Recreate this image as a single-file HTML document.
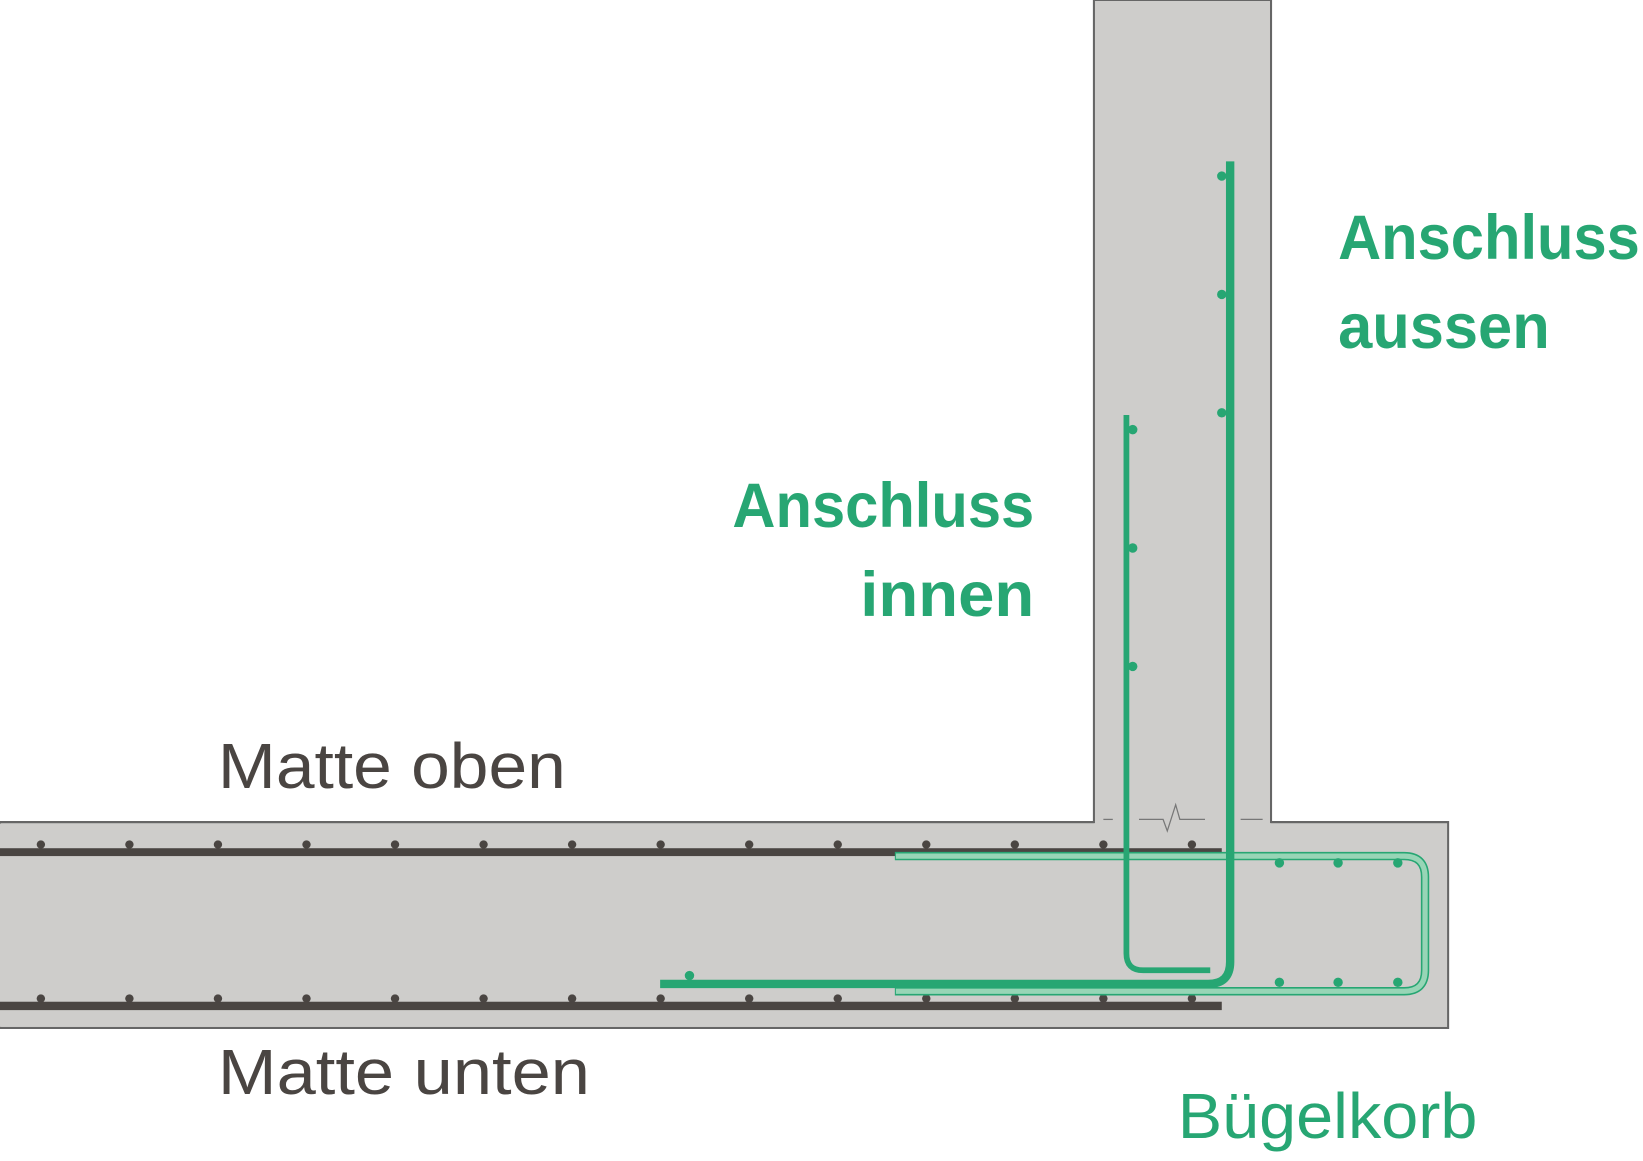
<!DOCTYPE html>
<html><head><meta charset="utf-8"><style>
html,body{margin:0;padding:0;background:#fff;}
svg{display:block;}
</style></head><body>
<svg width="1643" height="1161" viewBox="0 0 1568 1108" preserveAspectRatio="none" xmlns="http://www.w3.org/2000/svg">
<path d="M1044,0 L1213,0 L1213,784.5 L1382,784.5 L1382,981 L0,981 L0,784.5 L1044,784.5 Z" fill="#cecdcb" stroke="#666" stroke-width="2"/>
<rect x="0" y="786" width="1381" height="194" fill="#cecdcb"/>
<rect x="1045" y="1" width="167" height="790" fill="#cecdcb"/>
<line x1="0" y1="784.5" x2="1044" y2="784.5" stroke="#666" stroke-width="2"/>
<line x1="1213" y1="784.5" x2="1382" y2="784.5" stroke="#666" stroke-width="2"/>
<g stroke="#777" stroke-width="1.2" fill="none">
<line x1="1053" y1="782" x2="1062" y2="782"/>
<polyline points="1087,782 1110,782 1114,793 1122,768 1126,782 1150,782"/>
<line x1="1184" y1="782" x2="1205" y2="782"/>
</g>
<rect x="0" y="809.5" width="1166" height="7.5" fill="#4a4542"/>
<rect x="0" y="956" width="1166" height="8" fill="#4a4542"/>
<g fill="#4a4542">
<circle cx="39" cy="806" r="4"/><circle cx="123.5" cy="806" r="4"/><circle cx="208" cy="806" r="4"/><circle cx="292.5" cy="806" r="4"/><circle cx="377" cy="806" r="4"/><circle cx="461.5" cy="806" r="4"/><circle cx="546" cy="806" r="4"/><circle cx="630.5" cy="806" r="4"/><circle cx="715" cy="806" r="4"/><circle cx="799.5" cy="806" r="4"/><circle cx="884" cy="806" r="4"/><circle cx="968.5" cy="806" r="4"/><circle cx="1053" cy="806" r="4"/><circle cx="1137.5" cy="806" r="4"/>
<circle cx="39" cy="953" r="4"/><circle cx="123.5" cy="953" r="4"/><circle cx="208" cy="953" r="4"/><circle cx="292.5" cy="953" r="4"/><circle cx="377" cy="953" r="4"/><circle cx="461.5" cy="953" r="4"/><circle cx="546" cy="953" r="4"/><circle cx="630.5" cy="953" r="4"/><circle cx="715" cy="953" r="4"/><circle cx="799.5" cy="953" r="4"/><circle cx="884" cy="953" r="4"/><circle cx="968.5" cy="953" r="4"/><circle cx="1053" cy="953" r="4"/><circle cx="1137.5" cy="953" r="4"/>
</g>
<path d="M854,817 L1340,817 Q1360,817 1360,837 L1360,926 Q1360,946 1340,946 L854,946" fill="none" stroke="#27a673" stroke-width="8"/>
<path d="M855,817 L1340,817 Q1360,817 1360,837 L1360,926 Q1360,946 1340,946 L855,946" fill="none" stroke="#97d5b6" stroke-width="5"/>
<g fill="#27a673">
<circle cx="1221" cy="823.5" r="4.5"/><circle cx="1277" cy="823.5" r="4.5"/><circle cx="1334" cy="823.5" r="4.5"/>
<circle cx="1221" cy="937.5" r="4.5"/><circle cx="1277" cy="937.5" r="4.5"/><circle cx="1334" cy="937.5" r="4.5"/>
</g>
<path d="M1075,396 L1075,910 Q1075,926 1091,926 L1155,926" fill="none" stroke="#27a673" stroke-width="5.5"/>
<path d="M1174,154 L1174,918 Q1174,939 1153,939 L630,939" fill="none" stroke="#27a673" stroke-width="8"/>
<g fill="#27a673">
<circle cx="1166" cy="168" r="4.5"/><circle cx="1166" cy="281" r="4.5"/><circle cx="1166" cy="394" r="4.5"/>
<circle cx="1081" cy="410" r="4.5"/><circle cx="1081" cy="523" r="4.5"/><circle cx="1081" cy="636" r="4.5"/>
<circle cx="658" cy="931" r="4.5"/>
</g>
<g font-family="'Liberation Sans', sans-serif">
<text x="208" y="752" font-size="61" fill="#4a4542" textLength="332" lengthAdjust="spacingAndGlyphs">Matte oben</text>
<text x="208" y="1044" font-size="61" fill="#4a4542" textLength="355" lengthAdjust="spacingAndGlyphs">Matte unten</text>
<text x="1124" y="1086" font-size="61" fill="#27a673" textLength="286" lengthAdjust="spacingAndGlyphs">Bügelkorb</text>
<text x="1277" y="247" font-size="60" font-weight="bold" fill="#27a673" textLength="288" lengthAdjust="spacingAndGlyphs">Anschluss</text>
<text x="1277" y="332" font-size="60" font-weight="bold" fill="#27a673" textLength="202" lengthAdjust="spacingAndGlyphs">aussen</text>
<text x="699" y="503" font-size="60" font-weight="bold" fill="#27a673" textLength="288" lengthAdjust="spacingAndGlyphs">Anschluss</text>
<text x="821" y="588" font-size="60" font-weight="bold" fill="#27a673" textLength="166" lengthAdjust="spacingAndGlyphs">innen</text>
</g>
</svg>
</body></html>
